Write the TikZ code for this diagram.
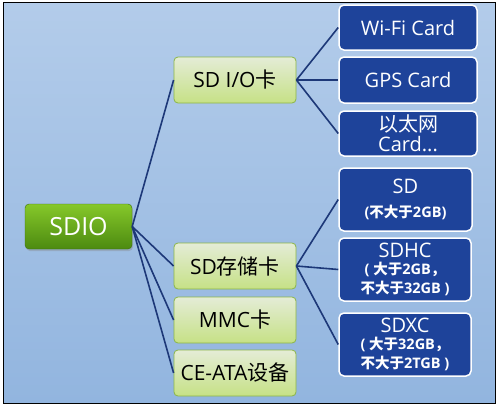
\documentclass[tikz,border=0pt]{standalone}
\usepackage{fontspec}
\setmainfont{Open Sans}
\newfontfamily\cjk{Noto Sans CJK SC}
\newcommand{\zh}[1]{{\cjk #1}}
\newcommand{\sizenote}{\fontsize{14.5}{17}\selectfont\bfseries}
\usetikzlibrary{shadows}
\definecolor{bgtop}{HTML}{B3CCEA}
\definecolor{bgbot}{HTML}{92B5DF}
\definecolor{sdiotop}{HTML}{86C82A}
\definecolor{sdiobot}{HTML}{4C8A10}
\definecolor{leaftop}{HTML}{E4ECD6}
\definecolor{leafbot}{HTML}{C6E186}
\definecolor{leafline}{HTML}{8CB646}
\definecolor{cardblue}{HTML}{1E439A}
\definecolor{linkblue}{HTML}{1D3878}
\begin{document}
\begin{tikzpicture}[x=1pt,y=-1pt,
    rootbox/.style={draw=sdiobot!80!black, rounded corners=4pt,
      top color=sdiotop, bottom color=sdiobot, text=white,
      minimum width=107pt, minimum height=45pt, inner sep=2pt,
      font=\fontsize{25}{28}\selectfont,
      drop shadow={opacity=.35, shadow xshift=1pt, shadow yshift=-2pt}},
    kindbox/.style={draw=leafline, line width=.8pt, rounded corners=4pt,
      top color=leaftop, bottom color=leafbot, text=black,
      minimum width=122pt, minimum height=46pt, inner sep=1pt,
      font=\fontsize{21}{24}\selectfont},
    cardbox/.style={draw=white, line width=1.5pt, rounded corners=5pt,
      fill=cardblue, text=white, align=center, inner sep=1pt,
      font=\fontsize{20}{23}\selectfont},
    link/.style={draw=linkblue, line width=1.6pt}]
  % background and frame
  \fill[white] (0,0) rectangle (499,405);
  \draw[top color=bgtop, bottom color=bgbot, draw=black, line width=1pt]
    (3,2) rectangle (495,403);

  % root
  \node[rootbox] (sdio) at (78.5,226.5) {SDIO};

  % card kinds
  \node[kindbox] (io)   at (235,80)  {SD I/O\zh{卡}};
  \node[kindbox] (mem)  at (235,266) {SD\zh{存储卡}};
  \node[kindbox] (mmc)  at (235,320) {MMC\zh{卡}};
  \node[kindbox] (ceata) at (235,373) {CE-ATA\zh{设备}};

  % I/O cards
  \node[cardbox, minimum width=138pt, minimum height=45pt] (wifi) at (408,27.5) {Wi-Fi Card};
  \node[cardbox, minimum width=138pt, minimum height=46pt] (gps)  at (408,80)   {GPS Card};
  \node[cardbox, minimum width=138pt, minimum height=45pt] (eth)  at (408,133.5)
    {\zh{以太网}\\[-3pt]Card...};

  % memory cards
  \node[cardbox, minimum width=133pt, minimum height=63pt] (sd)   at (405.5,199.5)
    {SD\\[1pt]{\sizenote(\zh{不大于}2GB)}};
  \node[cardbox, minimum width=132pt, minimum height=63pt] (sdhc) at (405,269.5)
    {SDHC\\[-6pt]{\sizenote( \zh{大于}2GB\zh{，}}\\[-4pt]{\sizenote\zh{不大于}32GB )}};
  \node[cardbox, minimum width=132pt, minimum height=63pt] (sdxc) at (405,344.5)
    {SDXC\\[-6pt]{\sizenote( \zh{大于}32GB\zh{，}}\\[-4pt]{\sizenote\zh{不大于}2TGB )}};

  % connectors
  \foreach \kind in {io,mem,mmc,ceata}
    \draw[link] (sdio.east) -- (\kind.west);
  \foreach \card in {wifi,gps,eth}
    \draw[link] (io.east) -- (\card.west);
  \foreach \card in {sd,sdhc,sdxc}
    \draw[link] (mem.east) -- (\card.west);
\end{tikzpicture}
\end{document}
